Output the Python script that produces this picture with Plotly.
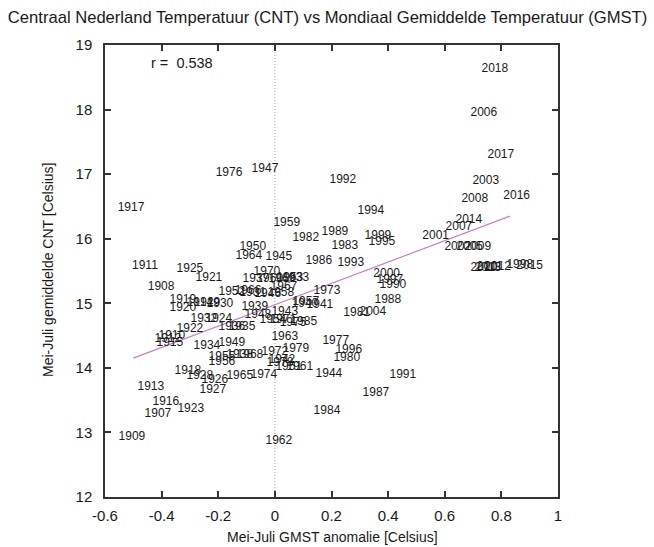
import plotly.graph_objects as go

# Mei-Juli GMST anomaly (x) and CNT mean temperature (y) per year
years = list(range(1907, 2019))

gmst = [
    -0.413, -0.402, -0.505, -0.364, -0.459, -0.378, -0.438, -0.265, -0.371, -0.385,  # 1907-1916
    -0.508, -0.307, -0.325, -0.325, -0.233, -0.300, -0.297, -0.198, -0.300, -0.212,  # 1917-1926
    -0.219, -0.265, -0.240, -0.194, -0.078, -0.251, 0.074, -0.240, -0.116, -0.152,   # 1927-1936
    -0.067, -0.124, -0.071, 0.106, 0.159, 0.025, 0.035, 0.191, 0.014, -0.025,        # 1937-1946
    -0.035, -0.060, -0.152, -0.078, 0.049, -0.152, 0.053, -0.007, -0.187, -0.187,    # 1947-1956
    0.109, 0.021, 0.042, -0.018, 0.088, 0.014, 0.035, -0.092, -0.124, -0.095,        # 1957-1966
    0.032, -0.088, 0.025, -0.028, 0.028, 0.000, 0.184, -0.039, 0.064, -0.162,        # 1967-1976
    0.215, 0.018, 0.074, 0.254, 0.289, 0.109, 0.247, 0.184, 0.102, 0.155,            # 1977-1986
    0.357, 0.399, 0.212, 0.417, 0.452, 0.240, 0.268, 0.339, 0.378, 0.261,            # 1987-1996
    0.406, 0.865, 0.364, 0.395, 0.568, 0.646, 0.745, 0.346, 0.688, 0.738,            # 1997-2006
    0.650, 0.706, 0.717, 0.738, 0.759, 0.787, 0.752, 0.685, 0.900, 0.854,            # 2007-2016
    0.798, 0.777,                                                                    # 2017-2018
]

cnt = [
    13.29, 15.25, 12.93, 14.49, 15.58, 14.45, 13.70, 15.00, 14.38, 13.47,            # 1907-1916
    16.48, 13.95, 15.05, 14.93, 15.39, 14.60, 13.36, 14.76, 15.53, 13.81,            # 1917-1926
    13.66, 13.87, 15.00, 14.99, 15.16, 14.76, 15.39, 14.34, 14.63, 14.63,            # 1927-1936
    15.38, 14.20, 14.94, 14.99, 14.97, 14.12, 14.86, 13.90, 15.72, 15.14,            # 1937-1946
    17.08, 14.82, 14.38, 15.87, 14.01, 15.17, 15.39, 14.74, 14.17, 14.09,            # 1947-1956
    15.02, 15.16, 16.24, 15.38, 14.01, 12.87, 14.48, 15.73, 13.87, 15.19,            # 1957-1966
    15.25, 14.20, 15.38, 15.48, 14.74, 14.25, 15.19, 13.89, 14.69, 17.02,            # 1967-1976
    14.42, 14.08, 14.29, 14.15, 14.85, 16.01, 15.89, 13.33, 14.71, 15.65,            # 1977-1986
    13.61, 15.05, 16.10, 15.28, 13.89, 16.91, 15.62, 16.43, 15.95, 14.28,            # 1987-1996
    15.36, 15.59, 16.04, 15.45, 16.04, 15.87, 16.89, 14.86, 15.87, 17.95,            # 1997-2006
    16.18, 16.61, 15.87, 15.55, 15.56, 15.56, 15.55, 16.29, 15.58, 16.66,            # 2007-2016
    17.30, 18.63,                                                                    # 2017-2018
]

# least-squares fit line endpoints
fit_x = [-0.50, 0.83]
fit_y = [14.15, 16.35]
r_value = 0.538

x_ticks = [-0.6, -0.4, -0.2, 0, 0.2, 0.4, 0.6, 0.8, 1]
x_tick_text = ["-0.6", "-0.4", "-0.2", "0", "0.2", "0.4", "0.6", "0.8", "1"]
y_ticks = [12, 13, 14, 15, 16, 17, 18, 19]

FONT = "Liberation Sans, Arial, Helvetica, sans-serif"
INK = "#1a1a1a"

fig = go.Figure()

# zero line of the GMST anomaly
fig.add_trace(go.Scatter(
    x=[0, 0], y=[12, 19], mode="lines",
    line=dict(color="#a0a0a0", width=1, dash="1px,2px"),
    hoverinfo="skip", showlegend=False,
))

# regression line
fig.add_trace(go.Scatter(
    x=fit_x, y=fit_y, mode="lines",
    line=dict(color="#c77fc7", width=1.2),
    hoverinfo="skip", showlegend=False,
))

# each year drawn as its own label
fig.add_trace(go.Scatter(
    x=gmst, y=cnt, mode="text",
    text=[str(y) for y in years],
    textposition="middle center",
    textfont=dict(family=FONT, size=12, color=INK),
    showlegend=False,
))

fig.add_annotation(
    x=-0.328, y=18.72, xref="x", yref="y",
    text=f"r =  {r_value:.3f}", showarrow=False,
    font=dict(family=FONT, size=14.5, color=INK),
)

# axis titles placed as paper annotations so the plot frame stays fixed
fig.add_annotation(
    x=0.503, y=-0.088, xref="paper", yref="paper",
    xanchor="center", yanchor="middle",
    text="Mei-Juli GMST anomalie [Celsius]", showarrow=False,
    font=dict(family=FONT, size=14, color=INK),
)
fig.add_annotation(
    x=-0.126, y=0.502, xref="paper", yref="paper",
    xanchor="center", yanchor="middle", textangle=-90,
    text="Mei-Juli gemiddelde CNT [Celsius]", showarrow=False,
    font=dict(family=FONT, size=14, color=INK),
)

axis_common = dict(
    showgrid=False, zeroline=False, automargin=False,
    showline=True, linecolor="#333333", linewidth=1.5,
    mirror="ticks", ticks="inside", ticklen=6, tickwidth=1.5, tickcolor="#333333",
    tickfont=dict(family=FONT, size=15, color=INK),
)

fig.update_xaxes(
    range=[-0.6, 1], tickvals=x_ticks, ticktext=x_tick_text,
    ticklabelstandoff=4,
    **axis_common,
)
fig.update_yaxes(
    range=[12, 19], tickvals=y_ticks,
    ticklabelstandoff=8,
    **axis_common,
)

fig.update_layout(
    width=654, height=547,
    margin=dict(l=105, r=96, t=45, b=50, autoexpand=False),
    paper_bgcolor="white", plot_bgcolor="white",
    title=dict(
        text="Centraal Nederland Temperatuur (CNT) vs Mondiaal Gemiddelde Temperatuur (GMST)",
        x=0.012, xanchor="left", y=0.968, yanchor="middle",
        font=dict(family=FONT, size=16.6, color=INK),
    ),
)

fig.write_html("out.html")
